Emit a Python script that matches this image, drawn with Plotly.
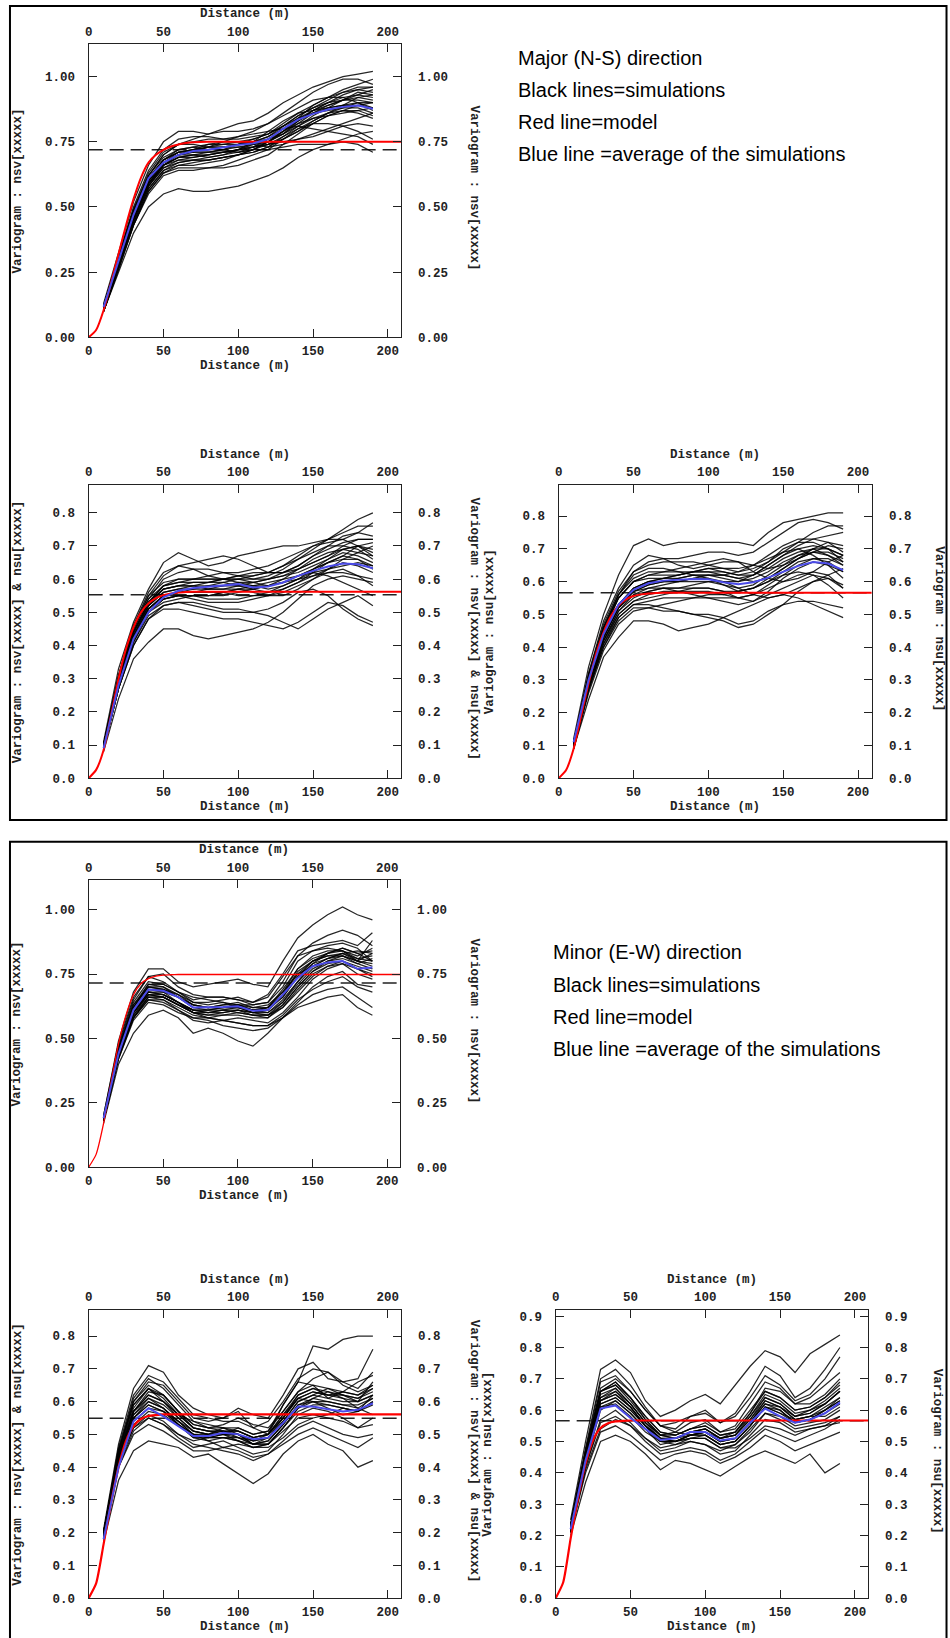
import plotly.graph_objects as go

W, H = 950, 1638
LAGS = [10, 20, 30, 40, 50, 60, 70, 80, 90, 100, 110, 120, 130, 140, 150, 160, 170, 180, 190]
X_TICKS = [0, 50, 100, 150, 200]
MODEL_X = [0, 5, 10, 15, 20, 25, 30, 35, 40, 45, 50, 55, 60, 65, 70, 80, 209]

# ---------------- Panel 1 : Major (N-S) direction ----------------
P1_SIMS = [  # hundredths
    [10, 25, 40, 50, 55, 57, 56, 56, 57, 58, 60, 62, 65, 69, 72, 74, 76, 78, 79],
    [13, 33, 52, 66, 75, 79, 79, 78, 80, 82, 83, 86, 90, 93, 96, 98, 100, 101, 102],
    [12, 31, 49, 62, 70, 74, 75, 76, 76, 77, 79, 82, 86, 90, 94, 97, 99, 99, 97],
    [11, 29, 46, 59, 66, 69, 70, 71, 72, 74, 75, 77, 80, 84, 87, 89, 91, 92, 93],
    [11, 28, 45, 58, 65, 67, 68, 68, 69, 70, 71, 73, 76, 79, 83, 86, 88, 90, 88],
    [10, 27, 43, 56, 63, 65, 65, 65, 65, 66, 68, 70, 74, 78, 82, 85, 87, 87, 85],
    [12, 30, 48, 61, 68, 72, 73, 72, 72, 71, 72, 74, 77, 80, 82, 82, 81, 79, 76],
    [11, 29, 47, 60, 67, 70, 71, 73, 75, 77, 78, 79, 80, 81, 80, 79, 78, 77, 74],
    [12, 30, 47, 60, 68, 71, 72, 73, 74, 74, 75, 76, 78, 82, 86, 89, 91, 93, 95],
    [10, 27, 44, 57, 64, 66, 66, 67, 68, 70, 72, 75, 78, 81, 85, 88, 91, 94, 93],
    [11, 28, 46, 59, 66, 70, 72, 74, 75, 75, 74, 73, 74, 76, 78, 80, 82, 84, 86],
    [12, 31, 50, 64, 72, 76, 77, 77, 76, 76, 77, 78, 81, 85, 88, 91, 94, 96, 96],
    [10, 26, 43, 55, 62, 64, 64, 65, 66, 68, 70, 72, 76, 80, 83, 86, 89, 92, 91],
    [11, 29, 46, 59, 66, 69, 70, 70, 71, 72, 73, 75, 79, 84, 89, 92, 94, 95, 94],
    [12, 30, 48, 62, 70, 74, 76, 78, 79, 79, 80, 82, 85, 88, 91, 92, 92, 90, 87],
    [11, 28, 45, 58, 66, 69, 69, 70, 71, 72, 73, 74, 75, 76, 77, 79, 81, 82, 81],
    [10, 27, 44, 57, 64, 67, 68, 69, 70, 71, 73, 76, 79, 82, 84, 85, 86, 87, 88],
    [12, 29, 47, 60, 67, 70, 70, 69, 70, 72, 75, 79, 83, 86, 87, 88, 89, 90, 90],
    [11, 28, 46, 59, 67, 70, 71, 71, 71, 71, 72, 72, 73, 74, 74, 74, 75, 74, 71],
    [11, 29, 47, 60, 67, 71, 72, 72, 73, 74, 75, 77, 81, 85, 88, 90, 91, 91, 90],
    [12, 30, 48, 62, 69, 72, 73, 74, 74, 75, 76, 78, 82, 86, 89, 92, 95, 97, 99],
    [10, 27, 45, 58, 65, 68, 69, 70, 71, 72, 74, 76, 80, 83, 86, 88, 89, 89, 88],
    [11, 28, 46, 59, 66, 68, 68, 68, 69, 70, 72, 75, 79, 83, 87, 90, 92, 93, 92],
    [12, 31, 49, 63, 71, 74, 74, 73, 73, 74, 76, 78, 81, 84, 86, 87, 88, 88, 86],
    [11, 29, 47, 61, 68, 71, 71, 71, 72, 73, 73, 74, 76, 79, 82, 85, 87, 89, 90],
    [10, 26, 43, 56, 63, 66, 67, 68, 69, 70, 71, 73, 77, 81, 84, 86, 87, 86, 84],
    [11, 30, 48, 61, 68, 71, 72, 73, 73, 73, 74, 75, 78, 83, 87, 90, 93, 95, 96],
]
P1_AVG = [0.117, 0.29, 0.47, 0.61, 0.67, 0.70, 0.715, 0.72, 0.73, 0.738, 0.744, 0.76, 0.80, 0.835, 0.857, 0.874, 0.884, 0.889, 0.877]
P1_MODEL = [0, 0.028, 0.104, 0.21, 0.32, 0.43, 0.53, 0.613, 0.67, 0.70, 0.719, 0.732, 0.740, 0.745, 0.748, 0.75, 0.75]
P1_SILL = 0.72

P2_SIMS = [
    [8, 24, 36, 41, 45, 45, 43, 42, 43, 44, 45, 47, 50, 54, 58, 60, 61, 60, 59],
    [11, 33, 47, 57, 65, 68, 66, 64, 65, 67, 68, 69, 70, 70, 71, 72, 75, 78, 80],
    [10, 30, 44, 53, 58, 60, 60, 61, 62, 62, 63, 64, 66, 68, 70, 71, 72, 74, 77],
    [9, 28, 42, 50, 54, 55, 55, 55, 56, 57, 56, 55, 55, 57, 60, 63, 66, 68, 70],
    [10, 31, 45, 54, 60, 62, 63, 63, 62, 61, 60, 60, 62, 64, 67, 69, 71, 72, 72],
    [9, 27, 40, 48, 52, 53, 53, 52, 51, 51, 50, 49, 47, 45, 48, 51, 53, 55, 52],
    [10, 29, 43, 52, 56, 57, 57, 58, 59, 60, 59, 58, 59, 61, 63, 66, 68, 67, 65],
    [9, 28, 42, 50, 54, 55, 54, 53, 53, 53, 54, 55, 56, 58, 60, 62, 63, 61, 58],
    [10, 30, 45, 55, 61, 64, 65, 66, 67, 66, 64, 62, 62, 64, 67, 70, 73, 74, 73],
    [9, 27, 41, 49, 52, 53, 52, 51, 50, 50, 50, 51, 53, 56, 57, 55, 51, 48, 46],
    [10, 29, 43, 51, 55, 56, 57, 57, 57, 58, 59, 60, 61, 62, 64, 66, 69, 70, 68],
    [9, 28, 42, 50, 53, 54, 55, 55, 56, 57, 58, 59, 60, 61, 62, 61, 59, 57, 55],
    [10, 31, 46, 56, 62, 64, 63, 61, 60, 59, 58, 57, 58, 60, 63, 65, 67, 70, 71],
    [9, 27, 40, 48, 51, 51, 50, 49, 48, 48, 47, 46, 45, 47, 50, 53, 52, 49, 47],
    [10, 30, 44, 52, 56, 57, 58, 59, 60, 61, 61, 62, 64, 66, 68, 70, 70, 69, 66],
    [9, 28, 42, 51, 55, 56, 56, 56, 56, 55, 55, 55, 57, 59, 61, 63, 65, 64, 62],
    [10, 29, 44, 53, 58, 59, 60, 60, 60, 60, 60, 61, 63, 66, 69, 72, 74, 76, 76],
    [10, 30, 44, 53, 57, 58, 58, 58, 58, 58, 58, 58, 59, 61, 63, 65, 66, 66, 64],
    [9, 28, 42, 51, 55, 56, 56, 57, 58, 59, 59, 60, 61, 63, 65, 67, 69, 70, 69],
    [10, 29, 43, 52, 57, 58, 59, 59, 59, 58, 57, 56, 57, 59, 62, 65, 67, 66, 63],
    [10, 31, 46, 55, 59, 60, 60, 60, 60, 60, 61, 62, 64, 67, 70, 72, 72, 70, 67],
    [9, 27, 41, 50, 54, 55, 55, 54, 54, 54, 55, 56, 58, 60, 62, 63, 64, 65, 64],
    [10, 30, 45, 54, 58, 59, 59, 59, 60, 61, 62, 62, 62, 63, 65, 67, 70, 72, 72],
    [9, 28, 42, 51, 55, 55, 55, 55, 55, 56, 57, 58, 59, 60, 61, 62, 62, 61, 60],
    [10, 29, 44, 53, 57, 58, 58, 57, 57, 57, 57, 58, 60, 63, 66, 68, 69, 68, 67],
]
P2_AVG = [0.09, 0.28, 0.42, 0.50, 0.545, 0.565, 0.573, 0.577, 0.582, 0.585, 0.575, 0.578, 0.59, 0.61, 0.625, 0.638, 0.647, 0.645, 0.633]
P2_MODEL = [0, 0.025, 0.085, 0.19, 0.30, 0.39, 0.455, 0.50, 0.527, 0.543, 0.552, 0.557, 0.560, 0.561, 0.562, 0.562, 0.562]
P2_SILL = 0.553

P3_SIMS = [
    [9, 24, 37, 43, 48, 48, 47, 45, 46, 47, 49, 51, 53, 55, 56, 55, 53, 51, 49],
    [12, 34, 50, 62, 71, 73, 71, 72, 72, 72, 72, 72, 71, 75, 78, 79, 80, 81, 81],
    [11, 31, 46, 56, 63, 66, 67, 67, 68, 69, 69, 68, 69, 72, 75, 78, 79, 78, 76],
    [10, 28, 42, 50, 54, 55, 56, 57, 58, 58, 57, 55, 54, 57, 61, 64, 66, 65, 63],
    [10, 29, 43, 52, 57, 59, 60, 61, 62, 61, 59, 57, 58, 61, 64, 67, 70, 72, 71],
    [9, 27, 40, 48, 52, 52, 51, 51, 50, 50, 49, 47, 48, 51, 53, 54, 54, 53, 52],
    [11, 32, 48, 58, 65, 68, 67, 65, 64, 65, 66, 66, 65, 64, 65, 67, 69, 71, 70],
    [10, 28, 41, 49, 53, 54, 55, 55, 55, 56, 56, 57, 58, 60, 62, 63, 62, 59, 55],
    [11, 30, 45, 55, 60, 62, 63, 64, 65, 66, 67, 66, 63, 61, 60, 61, 63, 66, 68],
    [10, 29, 43, 52, 56, 57, 58, 58, 59, 60, 60, 60, 62, 65, 68, 71, 73, 74, 75],
    [9, 27, 40, 49, 53, 53, 52, 51, 50, 49, 48, 46, 47, 50, 53, 57, 60, 61, 59],
    [11, 31, 46, 56, 62, 64, 64, 63, 62, 62, 62, 63, 65, 68, 71, 73, 73, 72, 69],
    [10, 28, 42, 51, 56, 58, 59, 60, 61, 61, 60, 58, 56, 55, 56, 58, 60, 62, 64],
    [10, 30, 44, 53, 58, 60, 61, 62, 63, 64, 64, 64, 65, 67, 69, 70, 68, 65, 61],
    [9, 26, 39, 47, 51, 52, 53, 54, 55, 55, 55, 55, 56, 58, 60, 62, 63, 62, 58],
    [11, 32, 47, 57, 63, 65, 66, 66, 66, 65, 64, 63, 64, 66, 69, 72, 75, 77, 77],
    [10, 29, 43, 52, 57, 58, 58, 57, 56, 55, 54, 53, 54, 56, 58, 60, 62, 61, 58],
    [10, 30, 44, 53, 58, 60, 61, 61, 62, 62, 61, 60, 61, 63, 66, 68, 69, 68, 66],
    [11, 31, 46, 56, 61, 63, 63, 63, 63, 63, 62, 61, 62, 65, 68, 70, 71, 70, 68],
    [10, 29, 43, 52, 57, 59, 60, 60, 60, 60, 59, 58, 59, 62, 65, 68, 70, 70, 68],
    [10, 28, 42, 51, 55, 57, 58, 58, 58, 58, 57, 57, 58, 60, 63, 66, 67, 66, 63],
    [11, 30, 45, 55, 60, 62, 62, 62, 63, 63, 63, 62, 62, 64, 67, 69, 70, 68, 65],
    [10, 29, 44, 53, 58, 60, 60, 60, 61, 62, 62, 61, 60, 61, 64, 67, 69, 69, 67],
    [9, 27, 41, 50, 54, 56, 57, 57, 57, 57, 56, 55, 56, 59, 62, 65, 67, 67, 65],
    [11, 31, 46, 55, 60, 61, 61, 62, 63, 64, 63, 62, 63, 66, 70, 72, 72, 70, 66],
]
P3_AVG = [0.11, 0.30, 0.44, 0.53, 0.575, 0.595, 0.603, 0.605, 0.608, 0.607, 0.598, 0.592, 0.598, 0.612, 0.63, 0.648, 0.66, 0.655, 0.635]
P3_MODEL = [0, 0.025, 0.09, 0.19, 0.29, 0.38, 0.445, 0.495, 0.527, 0.546, 0.556, 0.561, 0.564, 0.565, 0.566, 0.566, 0.566]
P3_SILL = 0.566

# ---------------- Panel 2 : Minor (E-W) direction ----------------
P4_SIMS = [
    [17, 40, 52, 59, 61, 58, 52, 54, 52, 49, 47, 52, 58, 62, 64, 66, 67, 62, 59],
    [20, 49, 68, 77, 77, 72, 70, 71, 72, 73, 71, 70, 80, 89, 94, 98, 101, 98, 96],
    [19, 46, 63, 70, 69, 67, 64, 64, 65, 66, 64, 67, 75, 84, 86, 87, 88, 86, 91],
    [18, 43, 59, 67, 66, 63, 60, 59, 60, 61, 59, 58, 63, 70, 76, 80, 82, 80, 78],
    [19, 45, 62, 71, 71, 68, 64, 63, 64, 62, 60, 62, 69, 77, 81, 83, 84, 82, 85],
    [18, 42, 58, 65, 65, 61, 58, 58, 57, 58, 57, 56, 60, 66, 73, 77, 79, 75, 73],
    [19, 45, 61, 69, 68, 66, 63, 62, 63, 64, 62, 62, 66, 74, 80, 82, 82, 79, 81],
    [18, 43, 58, 65, 64, 61, 57, 56, 57, 56, 55, 55, 59, 65, 69, 72, 74, 70, 68],
    [19, 47, 65, 74, 72, 68, 65, 66, 66, 65, 64, 66, 74, 82, 84, 85, 84, 80, 88],
    [18, 44, 60, 67, 66, 63, 61, 60, 60, 61, 60, 59, 62, 68, 74, 78, 80, 78, 76],
    [19, 46, 64, 72, 71, 68, 66, 65, 64, 63, 62, 63, 68, 75, 78, 81, 83, 84, 83],
    [18, 42, 57, 64, 63, 60, 58, 57, 55, 54, 53, 54, 58, 63, 67, 69, 70, 66, 62],
    [19, 44, 60, 68, 67, 64, 61, 61, 62, 63, 63, 64, 70, 80, 84, 86, 87, 85, 80],
    [18, 43, 58, 66, 66, 63, 60, 58, 57, 56, 55, 55, 58, 64, 70, 74, 76, 71, 70],
    [20, 48, 66, 74, 75, 70, 67, 66, 66, 65, 63, 64, 72, 82, 87, 90, 92, 90, 86],
    [18, 44, 60, 68, 68, 64, 60, 60, 61, 62, 61, 60, 64, 72, 79, 83, 85, 83, 80],
    [19, 45, 62, 70, 69, 66, 62, 62, 63, 63, 61, 61, 66, 74, 79, 81, 82, 80, 79],
    [18, 44, 60, 68, 67, 64, 61, 60, 61, 61, 60, 60, 65, 72, 78, 81, 83, 81, 80],
    [19, 46, 63, 71, 70, 67, 63, 62, 62, 62, 61, 62, 68, 77, 82, 84, 84, 81, 82],
    [18, 43, 59, 66, 66, 63, 60, 59, 59, 60, 59, 59, 63, 70, 76, 79, 80, 77, 75],
    [19, 45, 61, 69, 69, 66, 62, 61, 62, 62, 60, 61, 67, 76, 80, 82, 83, 80, 83],
    [18, 44, 60, 67, 67, 64, 61, 61, 61, 60, 59, 59, 64, 71, 77, 80, 81, 79, 77],
    [19, 46, 62, 70, 70, 66, 63, 62, 62, 63, 61, 62, 67, 75, 80, 83, 85, 83, 84],
    [18, 43, 58, 66, 65, 62, 59, 58, 59, 59, 58, 58, 62, 69, 75, 78, 79, 77, 74],
]
P4_AVG = [0.19, 0.44, 0.61, 0.69, 0.685, 0.66, 0.62, 0.62, 0.622, 0.625, 0.607, 0.61, 0.67, 0.735, 0.78, 0.795, 0.80, 0.77, 0.775]
P4_MODEL = [0, 0.05, 0.17, 0.33, 0.48, 0.59, 0.67, 0.712, 0.732, 0.742, 0.746, 0.747, 0.748, 0.748, 0.748, 0.748, 0.748]
P4_SILL = 0.715

P5_SIMS = [
    [17, 36, 45, 48, 47, 46, 43, 44, 41, 38, 35, 38, 44, 48, 50, 47, 45, 40, 42],
    [21, 47, 64, 71, 69, 62, 58, 56, 55, 57, 52, 50, 59, 66, 77, 76, 79, 80, 80],
    [20, 45, 60, 66, 65, 60, 55, 54, 55, 58, 56, 55, 62, 70, 72, 67, 66, 67, 76],
    [19, 42, 55, 60, 58, 54, 50, 50, 52, 51, 49, 50, 56, 61, 60, 60, 59, 58, 61],
    [20, 44, 58, 64, 60, 56, 52, 51, 50, 52, 50, 51, 59, 66, 65, 61, 63, 66, 68],
    [18, 40, 51, 55, 53, 49, 46, 47, 48, 46, 44, 45, 50, 56, 58, 57, 55, 52, 55],
    [19, 43, 57, 62, 60, 56, 54, 53, 52, 50, 47, 49, 54, 60, 62, 64, 62, 60, 66],
    [18, 41, 52, 56, 54, 50, 47, 46, 45, 44, 42, 44, 48, 52, 54, 52, 50, 49, 50],
    [20, 45, 61, 67, 64, 59, 54, 52, 53, 55, 53, 52, 57, 63, 67, 69, 65, 63, 65],
    [19, 41, 53, 57, 56, 53, 50, 48, 46, 47, 46, 46, 49, 53, 55, 56, 58, 57, 60],
    [19, 43, 56, 61, 58, 53, 49, 49, 50, 49, 47, 48, 53, 59, 60, 58, 56, 57, 62],
    [18, 40, 50, 53, 51, 48, 45, 45, 46, 45, 43, 44, 47, 50, 52, 50, 48, 46, 49],
    [20, 46, 62, 68, 66, 61, 56, 55, 54, 54, 52, 54, 60, 67, 70, 69, 66, 64, 69],
    [19, 42, 54, 58, 57, 54, 51, 50, 51, 50, 47, 47, 52, 58, 61, 63, 61, 58, 56],
    [19, 44, 57, 63, 62, 57, 53, 52, 51, 49, 48, 50, 55, 62, 64, 62, 63, 62, 64],
    [18, 41, 52, 55, 53, 50, 48, 49, 50, 48, 46, 47, 51, 55, 56, 55, 54, 52, 53],
    [19, 43, 57, 62, 60, 55, 51, 50, 50, 50, 48, 49, 55, 61, 63, 62, 61, 60, 62],
    [20, 45, 60, 65, 62, 57, 52, 51, 51, 51, 49, 50, 56, 62, 64, 63, 62, 61, 64],
    [19, 43, 56, 60, 58, 54, 50, 49, 49, 49, 47, 48, 53, 59, 61, 60, 59, 59, 61],
    [20, 44, 59, 64, 62, 57, 53, 52, 52, 52, 50, 51, 57, 63, 65, 64, 63, 62, 65],
    [19, 42, 55, 59, 57, 53, 49, 48, 49, 48, 46, 47, 52, 57, 59, 59, 58, 57, 59],
    [20, 45, 59, 64, 61, 56, 52, 51, 51, 51, 49, 50, 55, 61, 63, 62, 62, 61, 63],
    [19, 43, 57, 61, 59, 55, 51, 50, 50, 50, 48, 49, 54, 60, 62, 61, 60, 60, 62],
    [18, 42, 55, 59, 57, 53, 50, 49, 49, 48, 47, 47, 52, 58, 60, 59, 58, 57, 60],
]
P5_AVG = [0.18, 0.40, 0.54, 0.58, 0.555, 0.525, 0.495, 0.495, 0.505, 0.50, 0.485, 0.49, 0.535, 0.585, 0.585, 0.577, 0.57, 0.575, 0.595]
P5_MODEL = [0, 0.045, 0.165, 0.29, 0.40, 0.48, 0.525, 0.547, 0.556, 0.559, 0.561, 0.561, 0.561, 0.561, 0.561, 0.561, 0.561]
P5_SILL = 0.549

P6_SIMS = [
    [20, 37, 50, 52, 50, 46, 41, 44, 43, 41, 39, 42, 45, 47, 45, 43, 46, 40, 43],
    [25, 50, 73, 76, 72, 63, 58, 60, 63, 65, 62, 68, 74, 79, 77, 72, 78, 81, 84],
    [23, 47, 69, 71, 66, 60, 55, 54, 58, 60, 56, 59, 66, 74, 71, 64, 67, 73, 80],
    [22, 44, 62, 64, 60, 55, 51, 51, 53, 54, 51, 52, 57, 63, 61, 58, 59, 62, 66],
    [23, 46, 66, 69, 64, 57, 52, 53, 56, 57, 53, 55, 62, 69, 67, 62, 64, 68, 72],
    [21, 42, 57, 60, 56, 51, 47, 48, 50, 49, 46, 47, 52, 57, 56, 53, 54, 55, 58],
    [22, 45, 64, 66, 62, 56, 52, 51, 52, 53, 50, 51, 56, 62, 60, 56, 57, 60, 63],
    [21, 41, 54, 57, 55, 50, 46, 47, 48, 47, 44, 46, 50, 54, 52, 50, 52, 54, 57],
    [24, 48, 70, 73, 68, 61, 55, 56, 58, 59, 56, 58, 64, 71, 68, 63, 65, 70, 77],
    [22, 43, 60, 63, 59, 54, 49, 50, 51, 51, 48, 49, 53, 59, 58, 55, 56, 57, 60],
    [23, 46, 66, 68, 64, 58, 53, 52, 54, 56, 53, 54, 60, 66, 64, 60, 61, 64, 69],
    [21, 40, 53, 55, 52, 48, 44, 46, 47, 46, 43, 45, 48, 52, 50, 47, 49, 51, 53],
    [22, 45, 63, 65, 61, 55, 50, 50, 52, 52, 49, 50, 55, 61, 59, 57, 58, 58, 61],
    [23, 47, 67, 70, 66, 60, 55, 53, 52, 53, 51, 53, 59, 67, 66, 62, 62, 65, 70],
    [22, 44, 61, 62, 58, 53, 50, 49, 50, 49, 47, 49, 54, 59, 57, 54, 55, 56, 58],
    [21, 42, 56, 58, 55, 51, 48, 49, 51, 51, 48, 48, 51, 55, 54, 52, 54, 55, 56],
    [23, 46, 65, 67, 62, 56, 51, 51, 53, 54, 51, 52, 58, 64, 62, 58, 59, 62, 66],
    [22, 45, 63, 65, 61, 55, 51, 50, 52, 53, 50, 51, 56, 62, 61, 57, 58, 61, 64],
    [23, 46, 66, 68, 63, 57, 52, 52, 54, 55, 52, 53, 58, 65, 63, 59, 60, 63, 67],
    [22, 44, 61, 63, 59, 54, 50, 50, 51, 52, 49, 50, 55, 61, 59, 56, 57, 59, 62],
    [23, 47, 66, 69, 64, 58, 53, 52, 54, 55, 52, 53, 59, 66, 64, 60, 61, 64, 68],
    [22, 45, 63, 66, 61, 55, 51, 50, 52, 53, 50, 51, 56, 63, 61, 57, 58, 60, 64],
    [22, 44, 62, 64, 60, 55, 50, 50, 52, 52, 49, 50, 55, 61, 60, 56, 57, 60, 63],
    [23, 46, 64, 67, 62, 56, 52, 51, 53, 54, 51, 52, 57, 64, 62, 58, 60, 62, 66],
]
P6_AVG = [0.22, 0.44, 0.605, 0.615, 0.575, 0.54, 0.505, 0.51, 0.53, 0.53, 0.503, 0.51, 0.56, 0.605, 0.58, 0.56, 0.57, 0.59, 0.625]
P6_MODEL = [0, 0.05, 0.19, 0.32, 0.43, 0.505, 0.543, 0.558, 0.564, 0.566, 0.567, 0.567, 0.567, 0.567, 0.567, 0.567, 0.567]
P6_SILL = 0.566

Y_TICKS_025 = [0, 0.25, 0.5, 0.75, 1.0]
Y_TICKS_08 = [0, 0.1, 0.2, 0.3, 0.4, 0.5, 0.6, 0.7, 0.8]
Y_TICKS_09 = [0, 0.1, 0.2, 0.3, 0.4, 0.5, 0.6, 0.7, 0.8, 0.9]

T_NSV = "Variogram : nsv[xxxxx]"
T_BOTH = "Variogram : nsv[xxxxx] & nsu[xxxxx]"
T_NSU = "Variogram : nsu[xxxxx]"
X_TITLE = "Distance (m)"

PANEL1_TEXT = ["Major (N-S) direction", "Black lines=simulations", "Red line=model",
               "Blue line =average of the simulations"]
PANEL2_TEXT = ["Minor (E-W) direction", "Black lines=simulations", "Red line=model",
               "Blue line =average of the simulations"]

# subplot layout in pixels: (x0, x1, y0_top, y1_bottom)
PLOTS = [
    dict(sims=P1_SIMS, avg=P1_AVG, model=P1_MODEL, sill=P1_SILL, box=(85, 399, 44, 339), ymax=1.126, xmax=209,
         yticks=Y_TICKS_025, fmt=".2f", lt=T_NSV, rt=T_NSV, ltx=14, rtx=472, red_w=2),
    dict(sims=P2_SIMS, avg=P2_AVG, model=P2_MODEL, sill=P2_SILL, box=(85, 399, 487, 782), ymax=0.885, xmax=209,
         yticks=Y_TICKS_08, fmt=".1f", lt=T_BOTH, rt=T_BOTH, ltx=14, rtx=472, red_w=2),
    dict(sims=P3_SIMS, avg=P3_AVG, model=P3_MODEL, sill=P3_SILL, box=(557, 872, 487, 782), ymax=0.896, xmax=209.5,
         yticks=Y_TICKS_08, fmt=".1f", lt=T_NSU, rt=T_NSU, ltx=488, rtx=939, red_w=2),
    dict(sims=P4_SIMS, avg=P4_AVG, model=P4_MODEL, sill=P4_SILL, box=(85, 398, 884, 1173), ymax=1.116, xmax=208.7,
         yticks=Y_TICKS_025, fmt=".2f", lt=T_NSV, rt=T_NSV, ltx=14, rtx=471, red_w=1.3),
    dict(sims=P5_SIMS, avg=P5_AVG, model=P5_MODEL, sill=P5_SILL, box=(85, 399, 1316, 1606), ymax=0.881, xmax=209,
         yticks=Y_TICKS_08, fmt=".1f", lt=T_BOTH, rt=T_BOTH, ltx=14, rtx=472, red_w=2.2),
    dict(sims=P6_SIMS, avg=P6_AVG, model=P6_MODEL, sill=P6_SILL, box=(554, 868, 1316, 1606), ymax=0.921, xmax=209,
         yticks=Y_TICKS_09, fmt=".1f", lt=T_NSU, rt=T_NSU, ltx=486, rtx=937, red_w=2.2),
]

MONO = dict(family="Liberation Mono", size=12.5, color="#222222", weight="bold")


def fx(px):
    return px / W


def fy(py):
    return 1 - py / H


fig = go.Figure()
layout = dict(width=W, height=H, margin=dict(l=0, r=0, t=0, b=0),
              paper_bgcolor="white", plot_bgcolor="white", showlegend=False)
annotations = []
shapes = []

for k, p in enumerate(PLOTS):
    xb, xt = 2 * k + 1, 2 * k + 2
    yl, yr = 2 * k + 1, 2 * k + 2
    xa = "x" if xb == 1 else f"x{xb}"
    ya = "y" if yl == 1 else f"y{yl}"
    x0, x1, ytop, ybot = p["box"]
    dx = [fx(x0), fx(x1)]
    dy = [fy(ybot), fy(ytop)]
    common = dict(showline=True, linecolor="#222222", linewidth=1.3, ticks="inside", ticklen=8,
                  tickwidth=1, tickcolor="#222222", showgrid=False, zeroline=False, tickfont=MONO)
    layout["xaxis" if xb == 1 else f"xaxis{xb}"] = dict(
        domain=dx, range=[0, p["xmax"]], anchor=ya, side="bottom", tickvals=X_TICKS,
        ticklabelstandoff=2, **common)
    layout[f"xaxis{xt}"] = dict(
        domain=dx, range=[0, p["xmax"]], overlaying=xa, anchor=ya, side="top", tickvals=X_TICKS,
        ticklabelstandoff=2, **common)
    layout["yaxis" if yl == 1 else f"yaxis{yl}"] = dict(
        domain=dy, range=[0, p["ymax"]], anchor=xa, side="left", tickvals=p["yticks"],
        tickformat=p["fmt"], ticklabelstandoff=10, **common)
    layout[f"yaxis{yr}"] = dict(
        domain=dy, range=[0, p["ymax"]], overlaying=ya, anchor=xa, side="right", tickvals=p["yticks"],
        tickformat=p["fmt"], ticklabelstandoff=13, **common)

    fig.add_trace(go.Scatter(x=[None], y=[None], xaxis=f"x{xt}", yaxis=f"y{yr}",
                             hoverinfo="skip", showlegend=False))
    fig.add_trace(go.Scatter(x=[0, p["xmax"]], y=[p["sill"], p["sill"]], mode="lines", xaxis=xa, yaxis=ya,
                             line=dict(color="#222222", width=1.5, dash="14px,7px"), hoverinfo="skip"))
    for s in p["sims"]:
        fig.add_trace(go.Scatter(x=LAGS, y=[v / 100 for v in s], mode="lines", xaxis=xa, yaxis=ya,
                                 line=dict(color="rgba(0,0,0,0.85)", width=1.25), hoverinfo="skip"))
    fig.add_trace(go.Scatter(x=MODEL_X, y=p["model"], mode="lines", xaxis=xa, yaxis=ya,
                             line=dict(color="#ff0000", width=p["red_w"], shape="spline", smoothing=0.6),
                             hoverinfo="skip"))
    fig.add_trace(go.Scatter(x=LAGS, y=p["avg"], mode="lines", xaxis=xa, yaxis=ya,
                             line=dict(color="#4b4be8", width=2), hoverinfo="skip"))

    cx = (x0 + x1) / 2
    cy = (ytop + ybot) / 2
    annotations.append(dict(text=X_TITLE, x=fx(cx), y=fy(ytop - 30), xref="paper", yref="paper",
                            showarrow=False, font=MONO, xanchor="center", yanchor="middle"))
    annotations.append(dict(text=X_TITLE, x=fx(cx), y=fy(ybot + 29), xref="paper", yref="paper",
                            showarrow=False, font=MONO, xanchor="center", yanchor="middle"))
    annotations.append(dict(text=p["lt"], x=fx(p["ltx"]), y=fy(cy), xref="paper", yref="paper",
                            showarrow=False, font=MONO, textangle=-90, xanchor="center", yanchor="middle"))
    annotations.append(dict(text=p["rt"], x=fx(p["rtx"]), y=fy(cy - 3), xref="paper", yref="paper",
                            showarrow=False, font=MONO, textangle=90, xanchor="center", yanchor="middle"))

SANS = dict(family="Liberation Sans", size=20, color="black")
for i, t in enumerate(PANEL1_TEXT):
    annotations.append(dict(text=t, x=fx(514), y=fy(58 + 32.4 * i), xref="paper", yref="paper",
                            showarrow=False, font=SANS, xanchor="left", yanchor="middle"))
for i, t in enumerate(PANEL2_TEXT):
    annotations.append(dict(text=t, x=fx(549), y=fy(957 + 32.4 * i), xref="paper", yref="paper",
                            showarrow=False, font=SANS, xanchor="left", yanchor="middle"))

shapes.append(dict(type="rect", xref="paper", yref="paper", x0=fx(6), x1=fx(946.5), y0=fy(824), y1=fy(6),
                   line=dict(color="black", width=2)))
shapes.append(dict(type="rect", xref="paper", yref="paper", x0=fx(6), x1=fx(946.5), y0=fy(1660), y1=fy(846),
                   line=dict(color="black", width=2)))

layout["annotations"] = annotations
layout["shapes"] = shapes
fig.update_layout(**layout)
fig.write_html("out.html", config={"displayModeBar": False},
               post_script="document.body.style.margin='0px';document.body.style.overflow='hidden';")
